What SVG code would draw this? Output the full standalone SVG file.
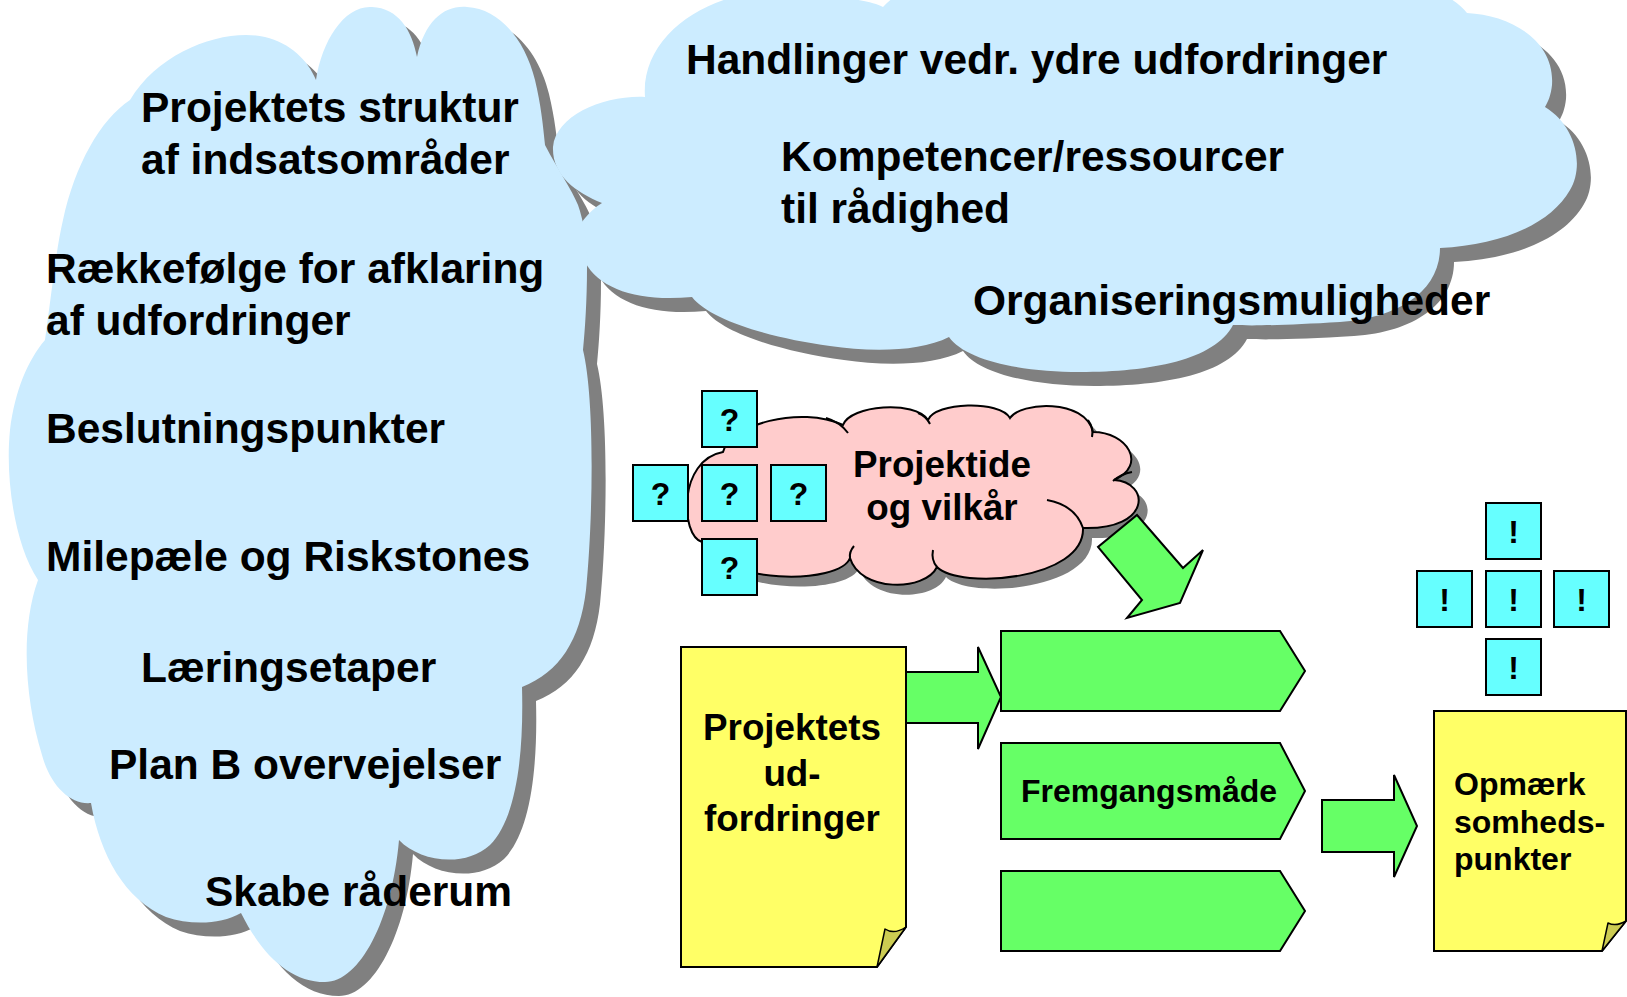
<svg xmlns="http://www.w3.org/2000/svg" width="1627" height="997" viewBox="0 0 1627 997">
  <defs>
    <style>
      .t { font-family: "Liberation Sans", Arial, sans-serif; font-weight: bold; fill: #000; }
      .big { font-size: 42.5px; }
      .mid { font-size: 36.8px; }
      .sm { font-size: 32px; }
      .mark { font-size: 32px; text-anchor: middle; }
      .sky { fill: #CCECFF; }
      .shade { fill: #808080; }
      .pink { fill: #FFCCCC; stroke: #000; stroke-width: 2; }
      .line { fill: none; stroke: #000; stroke-width: 2; }
      .box { fill: #66FFFF; stroke: #000; stroke-width: 2; }
      .green { fill: #66FF66; stroke: #000; stroke-width: 2; stroke-linejoin: miter; }
      .doc { fill: #FFFF66; stroke: #000; stroke-width: 2; }
      .fold { fill: #CCCC52; stroke: #000; stroke-width: 1.5; stroke-linejoin: round; }
    </style>
    <!-- tall cloud on the left -->
    <path id="leftCloudShape" d="M 130,100
      C 160,50 225,28 265,37 C 290,43 308,60 316,80
      C 322,40 345,5 372,7 C 398,8 412,30 417,57
      C 425,20 445,5 467,7 C 500,9 525,40 535,80 C 541,105 543,125 545,145
      C 558,170 572,190 578,205 C 585,225 588,250 587,268 C 587,300 585,330 583,350
      C 595,400 593,520 586,590 C 580,640 560,672 522,687
      C 524,760 515,820 490,845 C 465,868 420,862 399,840
      C 392,920 360,982 325,982 C 290,982 262,955 241,913
      C 220,925 190,925 166,917 C 125,900 100,855 91,803
      C 70,805 50,785 42,755 C 25,700 20,630 38,580
      C 15,545 5,480 10,430 C 15,390 28,360 45,340
      C 52,290 56,250 63,220 C 75,165 100,120 130,100 Z"/>
    <!-- wide cloud at the top right -->
    <path id="topCloudShape" d="M 602,203
      C 575,192 552,175 553,147 C 556,115 605,95 645,97
      C 640,30 720,-15 790,-8 C 835,-4 870,0 883,7
      C 950,-70 1400,-70 1467,13
      C 1510,15 1555,40 1552,85 C 1551,95 1548,102 1545,107
      C 1575,125 1585,165 1570,190 C 1550,225 1500,245 1440,248
      C 1440,290 1400,318 1340,322 C 1290,325 1255,326 1233,325
      C 1215,360 1150,372 1080,372 C 1020,372 965,360 949,337
      C 920,352 870,352 830,346 C 770,338 710,320 692,297
      C 640,302 600,290 585,262 C 575,245 575,232 582,222 C 588,214 595,207 602,203 Z"/>
    <!-- small pink cloud -->
    <path id="pinkCloudShape" d="M 723,452
      C 730,425 800,405 843,425
      C 850,405 915,400 928,420
      C 935,402 1000,400 1010,418
      C 1020,402 1085,398 1093,432
      C 1127,432 1148,465 1114,480
      C 1150,482 1152,530 1083,528
      C 1085,580 960,590 937,567
      C 925,592 860,592 850,558
      C 840,585 720,585 702,542
      C 680,535 678,460 723,452 Z"/>
  </defs>

  <!-- big clouds with drop shadows -->
  <g id="cloud-left-shadow">
    <use href="#leftCloudShape" class="shade" transform="translate(14,14)"/>
  </g>
  <g id="cloud-top">
    <use href="#topCloudShape" class="shade" transform="translate(14,14)"/>
    <use href="#topCloudShape" class="sky"/>
  </g>
  <g id="cloud-left">
    <use href="#leftCloudShape" class="sky"/>
    <text class="t big" x="141" y="122">Projektets struktur</text>
    <text class="t big" x="141" y="174">af indsatsområder</text>
    <text class="t big" x="46" y="283">Rækkefølge for afklaring</text>
    <text class="t big" x="46" y="335">af udfordringer</text>
    <text class="t big" x="46" y="443">Beslutningspunkter</text>
    <text class="t big" x="46" y="571">Milepæle og Riskstones</text>
    <text class="t big" x="141" y="682">Læringsetaper</text>
    <text class="t big" x="109" y="779">Plan B overvejelser</text>
    <text class="t big" x="205" y="906">Skabe råderum</text>
  </g>
  <g id="cloud-top-text">
    <text class="t big" x="686" y="74">Handlinger vedr. ydre udfordringer</text>
    <text class="t big" x="781" y="171">Kompetencer/ressourcer</text>
    <text class="t big" x="781" y="223">til rådighed</text>
    <text class="t big" x="973" y="315">Organiseringsmuligheder</text>
  </g>

  <!-- Projektide og vilkår -->
  <g id="cloud-projektide">
    <use href="#pinkCloudShape" class="shade" transform="translate(9,10)"/>
    <use href="#pinkCloudShape" class="pink"/>
    <path class="line" d="M 826,418 Q 840,422 848,433"/>
    <path class="line" d="M 918,413 Q 926,416 930,424"/>
    <path class="line" d="M 1088,420 Q 1094,428 1092,437"/>
    <path class="line" d="M 1113,481 Q 1121,474 1132,472"/>
    <path class="line" d="M 1047,500 Q 1075,505 1083,528"/>
    <path class="line" d="M 937,567 Q 931,560 933,550"/>
    <path class="line" d="M 850,558 Q 849,552 854,546"/>
    <text class="t mid" x="942" y="477" text-anchor="middle">Projektide</text>
    <text class="t mid" x="942" y="520" text-anchor="middle">og vilkår</text>
  </g>

  <!-- question marks -->
  <g id="questions">
    <rect class="box" x="702" y="391" width="55" height="56"/>
    <rect class="box" x="633" y="465" width="55" height="56"/>
    <rect class="box" x="702" y="465" width="55" height="56"/>
    <rect class="box" x="771" y="465" width="55" height="56"/>
    <rect class="box" x="702" y="539" width="55" height="56"/>
    <text class="t mark" x="729.5" y="431">?</text>
    <text class="t mark" x="660.5" y="505">?</text>
    <text class="t mark" x="729.5" y="505">?</text>
    <text class="t mark" x="798.5" y="505">?</text>
    <text class="t mark" x="729.5" y="579">?</text>
  </g>

  <!-- Projektets udfordringer -->
  <g id="doc-udfordringer">
    <path class="doc" d="M 681,647 L 906,647 L 906,927 L 877,967 L 681,967 Z"/>
    <path class="fold" d="M 877,967 L 885,929 Q 894,935 906,927 Z"/>
    <text class="t mid" x="792" y="740" text-anchor="middle">Projektets</text>
    <text class="t mid" x="792" y="786" text-anchor="middle">ud-</text>
    <text class="t mid" x="792" y="831" text-anchor="middle">fordringer</text>
  </g>

  <!-- three process steps -->
  <g id="step-1">
    <path class="green" d="M 1001,631 L 1280,631 L 1305,671 L 1280,711 L 1001,711 Z"/>
  </g>
  <g id="step-2">
    <path class="green" d="M 1001,743 L 1280,743 L 1305,791 L 1280,839 L 1001,839 Z"/>
    <text class="t sm" x="1149" y="802" text-anchor="middle">Fremgangsmåde</text>
  </g>
  <g id="step-3">
    <path class="green" d="M 1001,871 L 1280,871 L 1305,911 L 1280,951 L 1001,951 Z"/>
  </g>

  <!-- Opmærksomhedspunkter -->
  <g id="doc-opmaerk">
    <path class="doc" d="M 1434,711 L 1626,711 L 1626,921 L 1602,951 L 1434,951 Z"/>
    <path class="fold" d="M 1602,951 L 1608,923 Q 1616,927 1626,921 Z"/>
    <text class="t sm" x="1454" y="795">Opmærk</text>
    <text class="t sm" x="1454" y="833">somheds-</text>
    <text class="t sm" x="1454" y="870">punkter</text>
  </g>

  <!-- exclamation marks -->
  <g id="exclamations">
    <rect class="box" x="1486" y="503" width="55" height="56"/>
    <rect class="box" x="1417" y="571" width="55" height="56"/>
    <rect class="box" x="1486" y="571" width="55" height="56"/>
    <rect class="box" x="1554" y="571" width="55" height="56"/>
    <rect class="box" x="1486" y="639" width="55" height="56"/>
    <text class="t mark" x="1513.5" y="543">!</text>
    <text class="t mark" x="1444.5" y="611">!</text>
    <text class="t mark" x="1513.5" y="611">!</text>
    <text class="t mark" x="1581.5" y="611">!</text>
    <text class="t mark" x="1513.5" y="679">!</text>
  </g>

  <!-- block arrows -->
  <g id="connectors">
    <path class="green" d="M 1137,515 L 1183,568 L 1203,550 L 1180,603 L 1127,618 L 1142,600 L 1098,547 Z"/>
    <path class="green" d="M 906,672 L 978,672 L 978,647 L 1001,697 L 978,749 L 978,723 L 906,723 Z"/>
    <path class="green" d="M 1322,800 L 1394,800 L 1394,775 L 1417,826 L 1394,877 L 1394,852 L 1322,852 Z"/>
  </g>
</svg>
